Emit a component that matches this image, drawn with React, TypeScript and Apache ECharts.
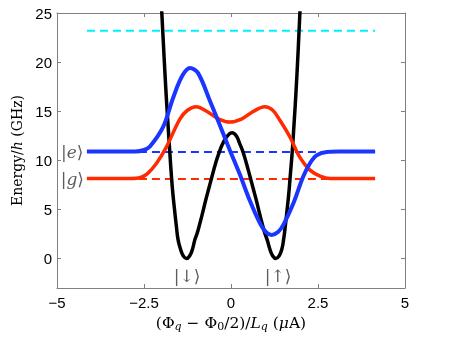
import React, { useEffect, useRef } from 'react';
import * as echarts from 'echarts';

const xTicks = [-5, -2.5, 0, 2.5, 5];
const yTicks = [0, 5, 10, 15, 20, 25];

// double-well potential (black)
const blackCurve: [number, number][] = [
  [-2.0, 25.8], [-1.95, 22.4], [-1.9, 19.0], [-1.85, 15.9], [-1.8, 13.1], [-1.76, 10.9],
  [-1.71, 8.3], [-1.67, 6.6], [-1.62, 4.9], [-1.57, 3.3], [-1.52, 1.9], [-1.45, 0.95],
  [-1.37, 0.26], [-1.28, 0], [-1.19, 0.26], [-1.11, 0.92], [-1.04, 1.9], [-0.97, 2.6],
  [-0.9, 3.5], [-0.82, 4.6], [-0.73, 5.9], [-0.64, 7.1], [-0.55, 8.3], [-0.45, 9.6],
  [-0.35, 10.7], [-0.25, 11.6], [-0.12, 12.4], [0.03, 12.8], [0.15, 12.5], [0.25, 11.7],
  [0.35, 10.8], [0.45, 9.6], [0.55, 8.3], [0.64, 7.1], [0.73, 5.9], [0.82, 4.6],
  [0.9, 3.5], [0.97, 2.6], [1.04, 1.9], [1.12, 0.92], [1.2, 0.26], [1.29, 0],
  [1.38, 0.26], [1.46, 0.95], [1.51, 1.9], [1.56, 3.3], [1.61, 4.9], [1.66, 6.6],
  [1.7, 8.3], [1.76, 10.9], [1.81, 13.6], [1.87, 17.1], [1.93, 21.2], [1.99, 25.8],
];

// ground state |g> (red)
const redCurve: [number, number][] = [
  [-4.14, 8.15], [-2.9, 8.15], [-2.6, 8.25], [-2.4, 8.65], [-2.14, 9.7], [-1.85, 11.4],
  [-1.47, 14.2], [-1.25, 15.1], [-1.0, 15.45], [-0.7, 15.0], [-0.35, 14.2], [-0.03, 13.9],
  [0.3, 14.2], [0.65, 15.0], [0.97, 15.45], [1.2, 15.1], [1.4, 14.1], [1.69, 12.4],
  [1.98, 10.3], [2.27, 9.0], [2.56, 8.4], [2.85, 8.15], [4.14, 8.15],
];

// excited state |e> (blue)
const blueCurve: [number, number][] = [
  [-4.14, 10.9], [-2.75, 10.9], [-2.5, 11.05], [-2.33, 11.4], [-1.95, 13.4], [-1.66, 16.4],
  [-1.4, 18.6], [-1.18, 19.4], [-0.95, 18.9], [-0.61, 16.1], [-0.3, 13.4], [-0.03, 11.0],
  [0.25, 8.6], [0.54, 5.9], [0.83, 3.6], [1.0, 2.7], [1.17, 2.4], [1.35, 2.7], [1.5, 3.4],
  [1.79, 5.6], [2.07, 8.3], [2.27, 9.7], [2.46, 10.5], [2.75, 10.85], [3.1, 10.9], [4.14, 10.9],
];

const levelRange = [-4.14, 4.14];
const cyanLevel = 23.2;
const eLevel = 10.85;
const gLevel = 8.1;

const stateLabels = [
  { name: '|{i|e}⟩', value: [-4.56, 10.85] },
  { name: '|{i|g}⟩', value: [-4.56, 8.1] },
  { name: '|↓⟩', value: [-1.26, -1.8] },
  { name: '|↑⟩', value: [1.35, -1.8] },
];

const BLUE = '#1a35ff';
const RED = '#ff2a00';
const CYAN = '#00f0ff';
const AXIS = '#808080';
const serif = 'DejaVu Serif';

const levelLine = (y: number, color: string) => ({
  type: 'line',
  data: levelRange.map((x) => [x, y]),
  symbol: 'none',
  lineStyle: { color, width: 2, type: [8, 5] },
  silent: true,
});

export default function App() {
  const ref = useRef<HTMLDivElement>(null);
  useEffect(() => {
    if (!ref.current) return;
    const chart = echarts.init(ref.current, undefined, { renderer: 'svg' });
    const tickLabel = {
      color: '#000',
      fontFamily: 'Liberation Sans',
      fontSize: 15,
    };
    chart.setOption({
      animation: false,
      grid: { left: 57, right: 45, top: 13, bottom: 50 },
      xAxis: [
        {
          type: 'value', min: -5, max: 5, interval: 2.5,
          axisLine: { show: true, onZero: false, lineStyle: { color: AXIS, width: 1 } },
          axisTick: { show: true, inside: true, length: 4, lineStyle: { color: AXIS } },
          splitLine: { show: false },
          axisLabel: {
            ...tickLabel, margin: 7,
            formatter: (v: number) => String(v).replace('-', '−'),
          },
          name: '(Φ{sub|q} − Φ{sub0|0}/2)/{i|L}{sub|q} ({i|μ}A)',
          nameLocation: 'middle',
          nameGap: 14,
          nameTextStyle: {
            fontFamily: serif, fontSize: 15.5, color: '#000',
            rich: {
              sub: { fontFamily: serif, fontSize: 11, fontStyle: 'italic', padding: [8, 0, 0, 0], color: '#000' },
              sub0: { fontFamily: serif, fontSize: 11, padding: [8, 0, 0, 0], color: '#000' },
              i: { fontFamily: serif, fontSize: 15.5, fontStyle: 'italic', color: '#000' },
            },
          },
        },
        {
          type: 'value', min: -5, max: 5, interval: 2.5, position: 'top',
          axisLine: { show: true, onZero: false, lineStyle: { color: AXIS, width: 1 } },
          axisTick: { show: true, inside: true, length: 4, lineStyle: { color: AXIS } },
          axisLabel: { show: false },
          splitLine: { show: false },
        },
      ],
      yAxis: [
        {
          type: 'value', min: -3, max: 25,
          axisLine: { show: true, onZero: false, lineStyle: { color: AXIS, width: 1 } },
          axisTick: { show: true, inside: true, length: 4, lineStyle: { color: AXIS }, customValues: yTicks },
          splitLine: { show: false },
          axisLabel: { ...tickLabel, margin: 5, customValues: yTicks },
          name: 'Energy/{i|h} (GHz)',
          nameLocation: 'middle',
          nameGap: 24,
          nameTextStyle: {
            fontFamily: serif, fontSize: 14, color: '#000',
            rich: { i: { fontFamily: serif, fontSize: 14, fontStyle: 'italic', color: '#000' } },
          },
        },
        {
          type: 'value', min: -3, max: 25, position: 'right',
          axisLine: { show: true, onZero: false, lineStyle: { color: AXIS, width: 1 } },
          axisTick: { show: true, inside: true, length: 4, lineStyle: { color: AXIS }, customValues: yTicks },
          axisLabel: { show: false, customValues: yTicks },
          splitLine: { show: false },
        },
      ],
      series: [
        levelLine(cyanLevel, CYAN),
        levelLine(eLevel, BLUE),
        levelLine(gLevel, RED),
        {
          type: 'line', data: blackCurve, symbol: 'none', smooth: 0.5, clip: true,
          lineStyle: { color: '#000', width: 3.5 },
        },
        {
          type: 'line', data: redCurve, symbol: 'none', smooth: 0.35,
          lineStyle: { color: RED, width: 3.5 },
        },
        {
          type: 'line', data: blueCurve, symbol: 'none', smooth: 0.35,
          lineStyle: { color: BLUE, width: 4 },
        },
        {
          type: 'scatter', data: stateLabels, symbolSize: 1,
          itemStyle: { color: 'rgba(0,0,0,0)' },
          label: {
            show: true, position: 'inside', formatter: (p: any) => p.name,
            fontFamily: serif, fontSize: 17, color: '#333',
            rich: { i: { fontFamily: serif, fontSize: 17, fontStyle: 'italic', color: '#333' } },
          },
        },
      ],
    });
    return () => chart.dispose();
  }, []);
  return <div ref={ref} style={{ position: 'fixed', left: 0, top: 0, width: 450, height: 338 }} />;
}
